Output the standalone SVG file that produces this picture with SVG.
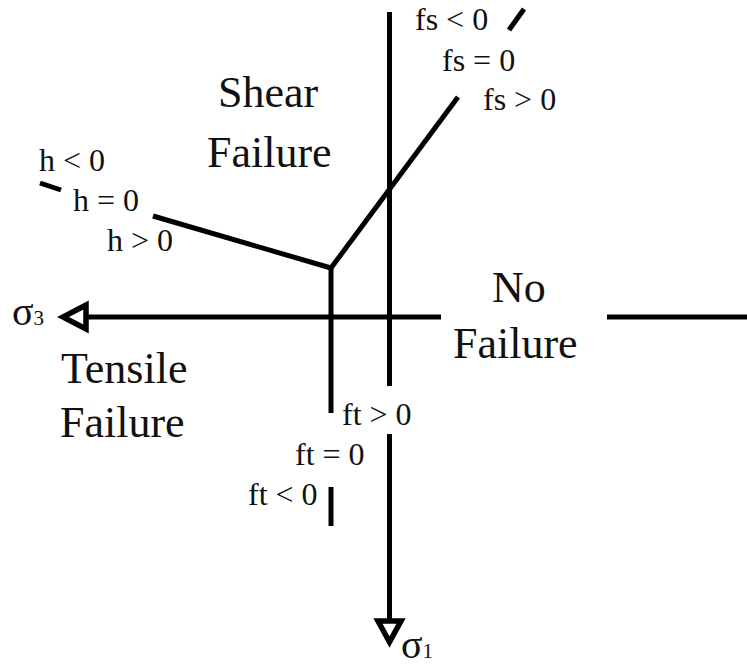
<svg xmlns="http://www.w3.org/2000/svg" width="747" height="666" viewBox="0 0 747 666">
<style>
.ln{stroke:#000;stroke-width:5;fill:none;stroke-linecap:butt}
.ar{stroke:#000;stroke-width:5.5;fill:#fff;stroke-linejoin:miter}
.big{font-family:"Liberation Serif","Times New Roman",serif;font-size:44px;fill:#111}
.sm{font-family:"Liberation Serif","Times New Roman",serif;font-size:32px;fill:#111}
.sig{font-family:"Liberation Serif","Times New Roman",serif;font-size:40px;fill:#111}
.sub{font-size:21px}
</style>
<rect width="747" height="666" fill="#fff"/>
<g id="connectors">
  <line class="ln" x1="389.5" y1="12" x2="389.5" y2="386"/>
  <line class="ln" x1="389.5" y1="434" x2="389.5" y2="621"/>
  <polygon class="ar" points="378,621 401,621 389.5,642"/>
  <line class="ln" x1="86" y1="317" x2="441" y2="317"/>
  <line class="ln" x1="607" y1="317" x2="747" y2="317"/>
  <polygon class="ar" points="86,305 86,329 63,317"/>
  <line class="ln" x1="153" y1="216" x2="331" y2="268"/>
  <line class="ln" x1="331" y1="268" x2="458" y2="97"/>
  <line class="ln" x1="331" y1="266" x2="331" y2="413"/>
  <line class="ln" x1="509" y1="30" x2="524" y2="9"/>
  <line class="ln" x1="40" y1="183" x2="61" y2="190"/>
  <line class="ln" x1="331" y1="487" x2="331" y2="526"/>
</g>
<g id="shear-failure"><text class="big" x="218" y="107">Shear</text><text class="big" x="207" y="167">Failure</text></g>
<g id="no-failure"><text class="big" x="492" y="302">No</text><text class="big" x="453" y="358">Failure</text></g>
<g id="tensile-failure"><text class="big" x="61" y="383">Tensile</text><text class="big" x="60" y="437">Failure</text></g>
<g id="fs-labels">
  <text class="sm" x="415" y="30">fs &lt; 0</text>
  <text class="sm" x="442" y="71">fs = 0</text>
  <text class="sm" x="483" y="110">fs &gt; 0</text>
</g>
<g id="h-labels">
  <text class="sm" x="39" y="171">h &lt; 0</text>
  <text class="sm" x="73" y="211">h = 0</text>
  <text class="sm" x="107" y="251">h &gt; 0</text>
</g>
<g id="ft-labels">
  <text class="sm" x="342" y="425">ft &gt; 0</text>
  <text class="sm" x="295" y="465">ft = 0</text>
  <text class="sm" x="248" y="505">ft &lt; 0</text>
</g>
<g id="sigma3"><text class="sig" x="12" y="325">σ<tspan class="sub">3</tspan></text></g>
<g id="sigma1"><text class="sig" x="401" y="658">σ<tspan class="sub">1</tspan></text></g>
</svg>
